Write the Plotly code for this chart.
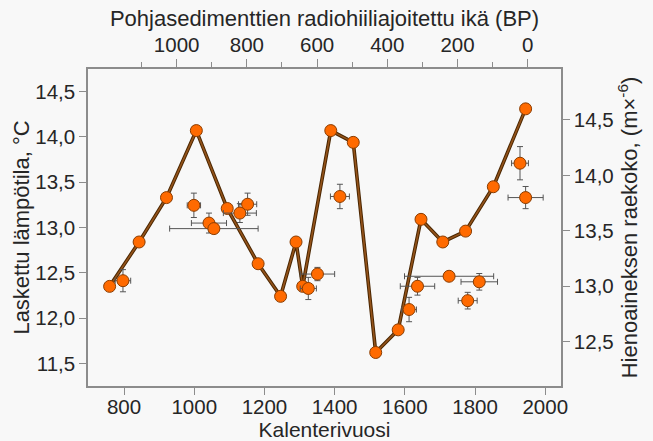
import plotly.graph_objects as go

# Calculated temperature (left axis) vs calendar year (bottom axis)
temp_year = [759, 843, 921, 1006, 1094, 1182, 1246, 1290, 1309, 1389, 1453,
             1517, 1581, 1646, 1708, 1773, 1852, 1944]
temp_c = [12.35, 12.84, 13.33, 14.07, 13.21, 12.60, 12.24, 12.84, 12.35, 14.07,
          13.94, 11.62, 11.87, 13.09, 12.84, 12.96, 13.45, 14.31]

# Fine-grain size (right axis) vs radiocarbon age BP (top axis)
grain_bp = [1153, 951, 908, 894, 820, 798, 625, 599, 535, 338, 314, 224, 171, 138, 22, 6]
grain_size = [13.05, 13.73, 13.57, 13.52, 13.66, 13.74, 12.98, 13.11, 13.81,
              12.79, 13.00, 13.09, 12.87, 13.04, 14.11, 13.80]
grain_bp_err = [22, 19, 50, 126, 47, 26, 23, 49, 27, 21, 49, 127, 27, 52, 24, 50]
grain_size_err = [0.10, 0.11, 0.09, 0.04, 0.085, 0.10, 0.10, 0.06, 0.11,
                  0.11, 0.08, 0.03, 0.075, 0.075, 0.15, 0.10]

bottom_ticks = [800, 1000, 1200, 1400, 1600, 1800, 2000]
top_ticks = [1000, 800, 600, 400, 200, 0]
top_minor_ticks = [1100, 900, 700, 500, 300, 100]
left_ticks = [11.5, 12.0, 12.5, 13.0, 13.5, 14.0, 14.5]
left_labels = ["11,5", "12,0", "12,5", "13,0", "13,5", "14,0", "14,5"]
right_ticks = [12.5, 13.0, 13.5, 14.0, 14.5]
right_labels = ["12,5", "13,0", "13,5", "14,0", "14,5"]

FONT = "Liberation Sans, Arial, sans-serif"
TXT = "#262626"
AX = "#8c8c8c"
BG = "#f8f8f8"
ORANGE = "#ff6a00"

fig = go.Figure()

fig.add_trace(go.Scatter(
    x=temp_year, y=temp_c, xaxis="x", yaxis="y", mode="lines",
    line=dict(color="#4a2600", width=3.6), hoverinfo="skip", showlegend=False))
fig.add_trace(go.Scatter(
    x=temp_year, y=temp_c, xaxis="x", yaxis="y", mode="lines+markers",
    line=dict(color="#94531a", width=1.6),
    marker=dict(size=12, color=ORANGE, line=dict(color="#8a3c00", width=1)),
    showlegend=False))

fig.add_trace(go.Scatter(
    x=grain_bp, y=grain_size, xaxis="x2", yaxis="y2", mode="markers",
    marker=dict(size=12, color=ORANGE, line=dict(color="#8a3c00", width=1)),
    error_x=dict(type="data", array=grain_bp_err, color="#555555", thickness=1, width=3),
    error_y=dict(type="data", array=grain_size_err, color="#555555", thickness=1, width=3),
    showlegend=False))

tickfont = dict(family=FONT, size=20.5, color=TXT)
titlefont = dict(family=FONT, size=22, color=TXT)

common = dict(ticks="outside", tickcolor=AX, tickwidth=1.2, showline=True,
              linecolor=AX, linewidth=1.5, showgrid=False, zeroline=False,
              tickfont=tickfont, automargin=False)

fig.update_layout(
    template="none",
    width=653, height=441,
    margin=dict(l=88, r=92, t=69, b=55, autoexpand=False),
    paper_bgcolor=BG, plot_bgcolor=BG,
    font=dict(family=FONT, color=TXT),
    xaxis=dict(
        range=[697.4, 2044.8], tickvals=bottom_ticks, ticklen=7,
        ticklabelstandoff=-5,
        title=dict(text="Kalenterivuosi", font=dict(family=FONT, size=21, color=TXT),
                   standoff=0), **common),
    xaxis2=dict(
        overlaying="x", side="top", range=[1252.6, -94.8], tickvals=top_ticks,
        ticklen=8,
        minor=dict(tickvals=top_minor_ticks, ticklen=5,
                   tickcolor=AX, tickwidth=1.2, ticks="outside"),
        ticklabelstandoff=-1,
        title=dict(text="Pohjasedimenttien radiohiiliajoitettu ikä (BP)",
                   font=titlefont, standoff=0), **common),
    yaxis=dict(
        range=[11.25, 14.75], tickvals=left_ticks, ticktext=left_labels, ticklen=7,
        title=dict(text="Laskettu lämpötila, °C", font=titlefont, standoff=0), **common),
    yaxis2=dict(
        overlaying="y", side="right", range=[12.1, 14.96],
        tickvals=right_ticks, ticktext=right_labels, ticklen=7,
        title=dict(text="Hienoaineksen raekoko, (m×<sup>-6</sup>)",
                   font=titlefont, standoff=4), **common),
)

fig.write_html(
    "out.html",
    config={"displayModeBar": False},
    post_script="document.body.style.margin='0';document.body.style.background='#f8f8f8';",
)
